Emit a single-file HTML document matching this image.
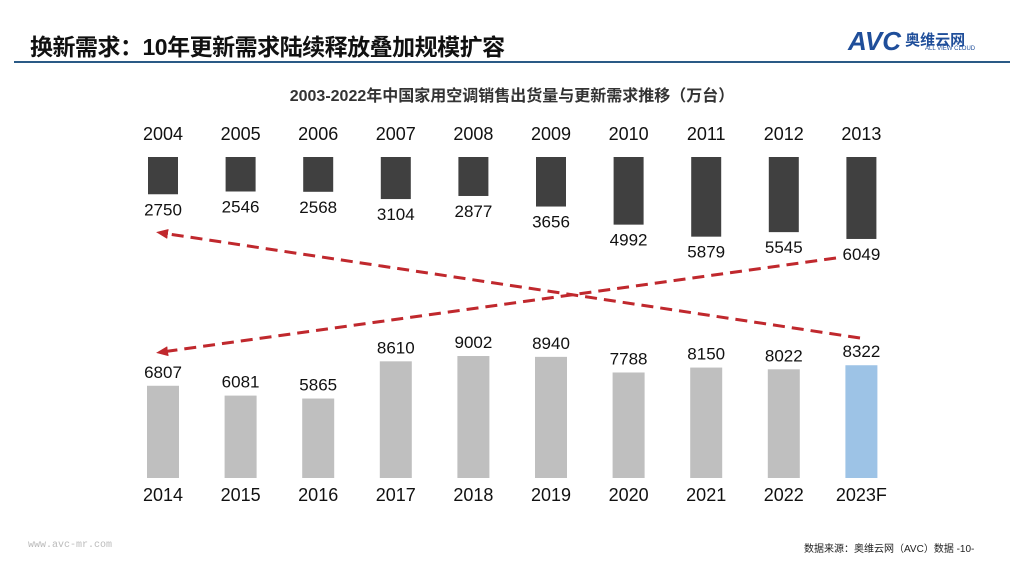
<!DOCTYPE html>
<html><head><meta charset="utf-8"><style>
body{margin:0;width:1024px;height:576px;background:#fff;overflow:hidden;font-family:"Liberation Sans","Noto Sans CJK SC",sans-serif;position:relative}
.t{position:absolute}
</style></head><body>
<div class="t" style="left:30px;top:28px;font-size:23px;font-weight:bold;color:#111;letter-spacing:-0.5px">换新需求：10年更新需求陆续释放叠加规模扩容</div>
<div class="t" style="left:848px;top:26px;font-size:26px;font-weight:bold;font-style:italic;color:#1f4e9a">AVC<span style="font-size:15px;font-style:normal;vertical-align:5px"> 奥维云网</span></div>
<div class="t" style="left:925px;top:46px;font-size:6px;color:#1f4e9a">ALL VIEW CLOUD</div>
<div class="t" style="left:14px;top:61px;width:996px;height:2px;background:#2a5a86"></div>
<div class="t" style="left:0;width:1024px;top:82px;text-align:center;font-size:16px;font-weight:bold;color:#333">2003-2022年中国家用空调销售出货量与更新需求推移（万台）</div>
<svg id="c" class="t" style="left:0;top:0" width="1024" height="576">
<defs><marker id="ah" markerUnits="userSpaceOnUse" markerWidth="12" markerHeight="12" refX="6" refY="6" orient="auto"><path d="M0,1 L12,6 L0,11 z" fill="#c0282d"/></marker></defs>
</svg>
<div class="t" style="left:28px;top:540px;font-size:10px;color:#bbb;font-family:'Liberation Mono',monospace">www.avc-mr.com</div>
<div class="t" style="left:804px;top:540px;font-size:10px;color:#222">数据来源：奥维云网（AVC）数据 -10-</div>
<script>
const topYears=["2004","2005","2006","2007","2008","2009","2010","2011","2012","2013"];
const topVals=[2750,2546,2568,3104,2877,3656,4992,5879,5545,6049];
const botYears=["2014","2015","2016","2017","2018","2019","2020","2021","2022","2023F"];
const botVals=[6807,6081,5865,8610,9002,8940,7788,8150,8022,8322];
const svg=document.getElementById('c');const NS="http://www.w3.org/2000/svg";
const xc=i=>163+i*77.6;const sc=v=>v*0.01355;
function el(tag,attrs,txt){const e=document.createElementNS(NS,tag);for(const k in attrs)e.setAttribute(k,attrs[k]);if(txt!=null)e.textContent=txt;svg.appendChild(e);return e;}
topVals.forEach((v,i)=>{
 const r=el('rect',{x:xc(i)-15,y:157,width:30,height:sc(v),fill:'#404040'});
 
 
 const y=el('text',{x:xc(i),y:140,'text-anchor':'middle','font-size':18,fill:'#111'},topYears[i]);
 
 
 const l=el('text',{x:xc(i),y:157+sc(v)+21,'text-anchor':'middle','font-size':17,fill:'#111'},v);
 
 
});
botVals.forEach((v,i)=>{
 const base=478;
 const r=el('rect',{x:xc(i)-16,y:base-sc(v),width:32,height:sc(v),fill:i==9?'#9dc3e6':'#bfbfbf'});
 
 
 const y=el('text',{x:xc(i),y:501,'text-anchor':'middle','font-size':18,fill:'#111'},botYears[i]);
 
 
 const l=el('text',{x:xc(i),y:base-sc(v)-8,'text-anchor':'middle','font-size':17,fill:'#111'},v);
 
 
});
const a1=el('line',{x1:860,y1:338,x2:162,y2:233,stroke:'#c0282d','stroke-width':3,'stroke-dasharray':'12,7','marker-end':'url(#ah)'});


const a2=el('line',{x1:836,y1:258,x2:162,y2:352,stroke:'#c0282d','stroke-width':3,'stroke-dasharray':'12,7','marker-end':'url(#ah)'});


</script>
</body></html>
